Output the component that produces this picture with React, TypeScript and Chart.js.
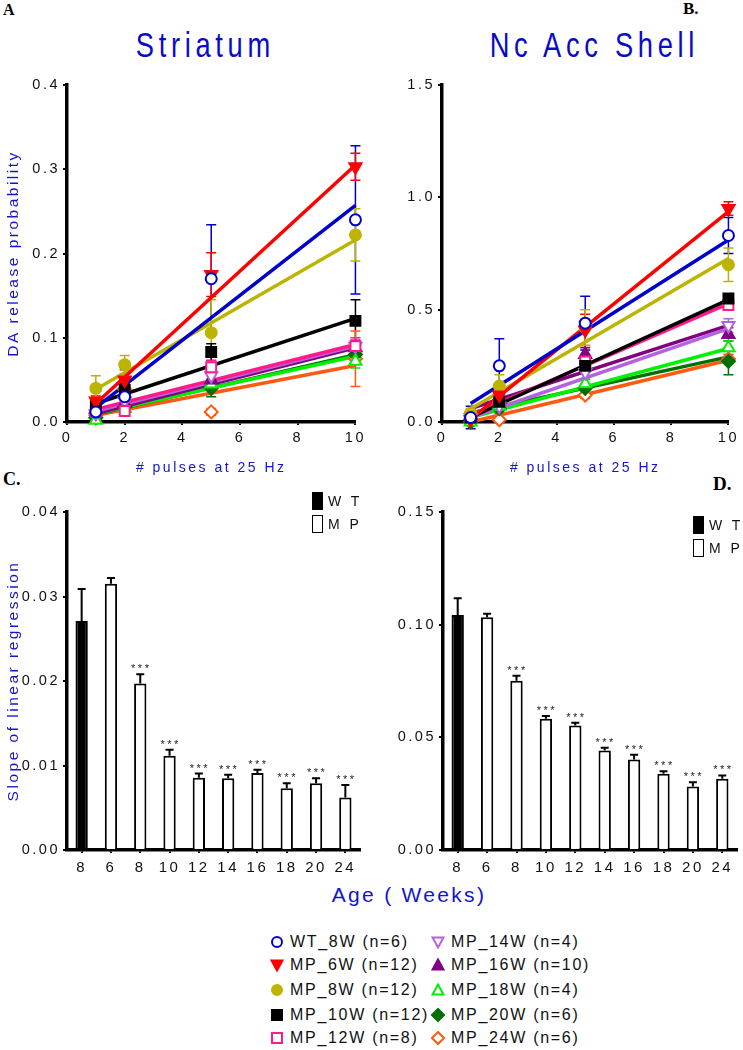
import React, { useEffect, useRef } from 'react';
import { Chart, registerables } from 'chart.js';

Chart.register(...registerables);

const FONT = "'Liberation Sans', Arial, sans-serif";
const SERIF = "'Liberation Serif', 'Times New Roman', serif";
const TEXT_BLUE = '#1414cc';

// ---------------- data ----------------
const pulses = [1, 2, 5, 10];
const fitRange = [1, 10];
const pulseTicks = [0, 2, 4, 6, 8, 10];
const striatumYTicks = [0, 0.1, 0.2, 0.3, 0.4];
const shellYTicks = [0, 0.5, 1.0, 1.5];
const slopeStriatumYTicks = [0, 0.01, 0.02, 0.03, 0.04];
const slopeShellYTicks = [0, 0.05, 0.1, 0.15];

const seriesLabels = [
  'WT_8W (n=6)', 'MP_6W (n=12)', 'MP_8W (n=12)', 'MP_10W (n=12)', 'MP_12W (n=8)',
  'MP_14W (n=4)', 'MP_16W (n=10)', 'MP_18W (n=4)', 'MP_20W (n=6)', 'MP_24W (n=6)',
];

const striatumMeans = [
  [0.012, 0.030, 0.170, 0.240],
  [0.025, 0.050, 0.175, 0.303],
  [0.040, 0.068, 0.106, 0.222],
  [0.020, 0.038, 0.083, 0.120],
  [0.012, 0.013, 0.065, 0.090],
  [0.010, 0.025, 0.055, 0.090],
  [0.015, 0.022, 0.050, 0.088],
  [0.002, 0.016, 0.045, 0.072],
  [0.005, 0.018, 0.040, 0.080],
  [0.008, 0.039, 0.012, 0.075],
];
const striatumErrors = [
  [0.004, 0.006, 0.064, 0.088],
  [0.006, 0.012, 0.026, 0.016],
  [0.015, 0.011, 0.039, 0.031],
  [0.005, 0.008, 0.010, 0.025],
  [0.005, 0.006, 0.008, 0.010],
  [0.004, 0.005, 0.008, 0.008],
  [0.004, 0.005, 0.008, 0.008],
  [0.002, 0.004, 0.006, 0.008],
  [0.003, 0.004, 0.010, 0.010],
  [0.003, 0.008, 0.004, 0.033],
];
const striatumFits = [
  [0.017, 0.257],
  [0.022, 0.305],
  [0.039, 0.216],
  [0.022, 0.123],
  [0.015, 0.092],
  [0.013, 0.090],
  [0.010, 0.088],
  [0.010, 0.078],
  [0.009, 0.080],
  [0.008, 0.067],
];

const shellMeans = [
  [0.02, 0.25, 0.44, 0.83],
  [0.01, 0.12, 0.41, 0.95],
  [0.04, 0.16, 0.42, 0.70],
  [0.02, 0.09, 0.25, 0.55],
  [0.02, 0.10, 0.27, 0.52],
  [0.02, 0.07, 0.22, 0.43],
  [0.03, 0.10, 0.30, 0.39],
  [0.00, 0.07, 0.17, 0.33],
  [0.00, 0.06, 0.15, 0.27],
  [0.00, 0.01, 0.12, 0.28],
];
const shellErrors = [
  [0.05, 0.12, 0.12, 0.08],
  [0.01, 0.03, 0.07, 0.03],
  [0.02, 0.05, 0.08, 0.075],
  [0.01, 0.02, 0.03, 0.02],
  [0.01, 0.02, 0.03, 0.02],
  [0.01, 0.02, 0.03, 0.03],
  [0.01, 0.02, 0.03, 0.03],
  [0.00, 0.02, 0.02, 0.03],
  [0.00, 0.02, 0.02, 0.06],
  [0.00, 0.01, 0.015, 0.02],
];
const shellFits = [
  [0.082, 0.81],
  [0.013, 0.936],
  [0.059, 0.728],
  [0.02, 0.545],
  [0.03, 0.527],
  [0.02, 0.416],
  [0.06, 0.43],
  [0.02, 0.327],
  [0.04, 0.29],
  [0.0, 0.275],
];

const ageLabels = ['8', '6', '8', '10', '12', '14', '16', '18', '20', '24'];
const ageGroups = ['WT', 'MP', 'MP', 'MP', 'MP', 'MP', 'MP', 'MP', 'MP', 'MP'];
const significance = ['', '', '***', '***', '***', '***', '***', '***', '***', '***'];
const striatumSlopes = [0.0271, 0.0315, 0.0197, 0.01115, 0.00855, 0.0085, 0.0091, 0.0073, 0.0079, 0.0062];
const striatumSlopeErrors = [0.0038, 0.0007, 0.0011, 0.0007, 0.0005, 0.0004, 0.0004, 0.0006, 0.0006, 0.0015];
const shellSlopes = [0.1043, 0.1033, 0.0751, 0.0583, 0.0553, 0.0442, 0.0402, 0.0338, 0.0282, 0.0316];
const shellSlopeErrors = [0.0074, 0.0015, 0.0022, 0.0012, 0.0012, 0.0012, 0.0021, 0.0012, 0.0019, 0.0015];

// ---------------- styles ----------------
const seriesColors = ['#0000cc', '#ff0000', '#bcb400', '#000000', '#ff1a8c', '#b463e0', '#800080', '#00f000', '#007000', '#ff5a10'];
const seriesShapes = ['circle', 'triangleDown', 'circle', 'square', 'square', 'triangleDown', 'triangle', 'triangle', 'diamond', 'diamond'];
const seriesFilled = [false, true, true, true, false, false, true, false, true, false];
const groupFill: Record<string, string> = { WT: '#000000', MP: '#ffffff' };

const shapeToChart: Record<string, { style: string; rotation: number; radius: number }> = {
  circle: { style: 'circle', rotation: 0, radius: 5.5 },
  triangleDown: { style: 'triangle', rotation: 180, radius: 7 },
  triangle: { style: 'triangle', rotation: 0, radius: 7 },
  square: { style: 'rect', rotation: 0, radius: 7 },
  diamond: { style: 'rectRot', rotation: 0, radius: 6.5 },
};

// ---------------- plugins ----------------
const setSpacing = (chart: any) => {
  (chart.ctx as any).letterSpacing = '2.5px';
};
const spacingPlugin = {
  id: 'letterSpacingPlugin',
  beforeUpdate: setSpacing,
  beforeLayout: setSpacing,
  beforeDraw: setSpacing,
};

function drawErrors(chart: any, after: boolean) {
  const ctx = chart.ctx;
  chart.data.datasets.forEach((ds: any, i: number) => {
    if (!ds.errorBars || !!ds.errorAfter !== after) return;
    const meta = chart.getDatasetMeta(i);
    const yScale = chart.scales[meta.yAxisID];
    ctx.save();
    ctx.strokeStyle = ds.errorColor;
    ctx.lineWidth = ds.errorWidth;
    meta.data.forEach((el: any, j: number) => {
      const raw = ds.data[j];
      const v = typeof raw === 'number' ? raw : raw.y;
      const e = ds.errorBars[j];
      if (!e) return;
      const x = el.x;
      const cap = ds.errorCap;
      const yHi = yScale.getPixelForValue(v + e);
      const yLo = ds.errorUpOnly ? yScale.getPixelForValue(v) : yScale.getPixelForValue(v - e);
      ctx.beginPath();
      ctx.moveTo(x, yLo);
      ctx.lineTo(x, yHi);
      ctx.moveTo(x - cap, yHi);
      ctx.lineTo(x + cap, yHi);
      if (!ds.errorUpOnly) {
        ctx.moveTo(x - cap, yLo);
        ctx.lineTo(x + cap, yLo);
      }
      ctx.stroke();
    });
    ctx.restore();
  });
}
const errorBarPlugin = {
  id: 'errorBarPlugin',
  beforeDatasetsDraw: (chart: any) => drawErrors(chart, false),
  afterDatasetsDraw: (chart: any) => drawErrors(chart, true),
};

const starsPlugin = {
  id: 'starsPlugin',
  afterDatasetsDraw(chart: any) {
    const ds: any = chart.data.datasets[0];
    const meta = chart.getDatasetMeta(0);
    const y = chart.scales.y;
    const ctx = chart.ctx;
    ctx.save();
    ctx.font = `11px ${FONT}`;
    ctx.fillStyle = '#222';
    ctx.textAlign = 'center';
    ctx.textBaseline = 'alphabetic';
    meta.data.forEach((el: any, j: number) => {
      if (!ds.stars[j]) return;
      const top = y.getPixelForValue(ds.data[j] + ds.errorBars[j]);
      ctx.fillText(ds.stars[j], el.x + 1, top - 2);
    });
    ctx.restore();
  },
};

// ---------------- helpers ----------------
function buildScatterDatasets(means: number[][], errors: number[][], fits: number[][]) {
  const ds: any[] = [];
  seriesLabels.forEach((label, i) => {
    const shape = shapeToChart[seriesShapes[i]];
    const color = seriesColors[i];
    ds.push({
      label,
      data: pulses.map((x, j) => ({ x, y: means[i][j] })),
      showLine: false,
      pointStyle: shape.style,
      rotation: shape.rotation,
      pointRadius: shape.radius,
      pointBorderWidth: 2,
      pointBorderColor: color,
      pointBackgroundColor: seriesFilled[i] ? color : '#ffffff',
      order: 0,
      clip: false,
      errorBars: errors[i],
      errorColor: color,
      errorWidth: 1.5,
      errorCap: 5,
    });
    ds.push({
      label: label + ' fit',
      data: fitRange.map((x, k) => ({ x, y: fits[i][k] })),
      showLine: true,
      borderColor: color,
      borderWidth: 3.5,
      pointRadius: 0,
      order: 1,
      clip: false,
    });
  });
  return ds;
}

const axisBorder = { display: true, color: '#000', width: 3.5 };
const tickGrid = { display: true, drawOnChartArea: false, drawTicks: true, tickLength: 4, color: '#000', lineWidth: 2 };

function yAxis(ticks: number[], decimals: number, width: number, title?: string) {
  return {
    type: 'linear',
    min: ticks[0],
    max: ticks[ticks.length - 1],
    afterBuildTicks: (s: any) => {
      s.ticks = ticks.map((v) => ({ value: v }));
    },
    afterFit: (s: any) => {
      s.width = width;
    },
    border: axisBorder,
    grid: tickGrid,
    ticks: {
      color: '#111',
      font: { family: FONT, size: 14.5 },
      padding: 3,
      callback: (v: any) => Number(v).toFixed(decimals),
    },
    title: {
      display: !!title,
      text: title || '',
      color: TEXT_BLUE,
      font: { family: FONT, size: 15.5 },
      padding: { top: 4, bottom: 0 },
    },
  };
}

type ScatterProps = {
  left: number; top: number; width: number; height: number;
  yWidth: number; xHeight: number; padTop: number; padRight: number;
  means: number[][]; errors: number[][]; fits: number[][];
  yTicks: number[]; yDecimals: number; yTitle?: string;
};

function ScatterPanel(p: ScatterProps) {
  const ref = useRef<HTMLCanvasElement>(null);
  useEffect(() => {
    const chart = new Chart(ref.current as HTMLCanvasElement, {
      type: 'scatter',
      data: { datasets: buildScatterDatasets(p.means, p.errors, p.fits) },
      options: {
        responsive: false,
        animation: false,
        devicePixelRatio: 1,
        layout: { padding: { left: 0, top: p.padTop, right: p.padRight, bottom: 0 } },
        plugins: { legend: { display: false }, tooltip: { enabled: false }, title: { display: false } },
        scales: {
          x: {
            type: 'linear',
            min: 0,
            max: 10,
            afterBuildTicks: (s: any) => {
              s.ticks = pulseTicks.map((v) => ({ value: v }));
            },
            afterFit: (s: any) => {
              s.height = p.xHeight;
            },
            border: axisBorder,
            grid: { ...tickGrid, tickLength: 3 },
            ticks: { color: '#111', font: { family: FONT, size: 14.5 }, padding: 4, maxRotation: 0 },
            title: {
              display: true,
              text: '# pulses at 25 Hz',
              color: TEXT_BLUE,
              font: { family: FONT, size: 14 },
              padding: { top: 0, bottom: 3 },
            },
          },
          y: yAxis(p.yTicks, p.yDecimals, p.yWidth, p.yTitle),
        },
      } as any,
      plugins: [spacingPlugin, errorBarPlugin],
    });
    return () => chart.destroy();
  }, []);
  return (
    <canvas
      ref={ref}
      width={p.width}
      height={p.height}
      style={{ position: 'absolute', left: p.left, top: p.top, width: p.width, height: p.height }}
    />
  );
}

type BarProps = {
  left: number; top: number; width: number; height: number;
  yWidth: number; xHeight: number; padTop: number; padRight: number;
  means: number[]; errors: number[]; yTicks: number[]; yTitle?: string;
};

function BarPanel(p: BarProps) {
  const ref = useRef<HTMLCanvasElement>(null);
  useEffect(() => {
    const chart = new Chart(ref.current as HTMLCanvasElement, {
      type: 'bar',
      data: {
        labels: ageLabels,
        datasets: [
          {
            label: 'slope',
            data: p.means,
            backgroundColor: ageGroups.map((g) => groupFill[g]),
            borderColor: '#000',
            borderWidth: 2,
            borderSkipped: 'start',
            barPercentage: 0.42,
            categoryPercentage: 1,
            errorBars: p.errors,
            errorUpOnly: true,
            errorAfter: true,
            errorColor: '#000',
            errorWidth: 2,
            errorCap: 4,
            stars: significance,
          } as any,
        ],
      },
      options: {
        responsive: false,
        animation: false,
        devicePixelRatio: 1,
        layout: { padding: { left: 0, top: p.padTop, right: p.padRight, bottom: 0 } },
        plugins: { legend: { display: false }, tooltip: { enabled: false } },
        scales: {
          x: {
            type: 'category',
            afterFit: (s: any) => {
              s.height = p.xHeight;
            },
            border: axisBorder,
            grid: { ...tickGrid, offset: false, tickLength: 3 },
            ticks: { color: '#111', font: { family: FONT, size: 15 }, padding: 6, maxRotation: 0, autoSkip: false },
          },
          y: yAxis(p.yTicks, 2, p.yWidth, p.yTitle),
        },
      } as any,
      plugins: [spacingPlugin, errorBarPlugin, starsPlugin],
    });
    return () => chart.destroy();
  }, []);
  return (
    <canvas
      ref={ref}
      width={p.width}
      height={p.height}
      style={{ position: 'absolute', left: p.left, top: p.top, width: p.width, height: p.height }}
    />
  );
}

function Marker({ shape, color, filled }: { shape: string; color: string; filled: boolean }) {
  const fill = filled ? color : '#ffffff';
  let el: any = null;
  if (shape === 'circle') el = <circle cx={7} cy={7} r={5} fill={fill} stroke={color} strokeWidth={2} />;
  else if (shape === 'square') el = <rect x={2} y={2} width={10} height={10} fill={fill} stroke={color} strokeWidth={2} />;
  else if (shape === 'triangleDown') el = <polygon points="1.5,2.5 12.5,2.5 7,12.5" fill={fill} stroke={color} strokeWidth={2} />;
  else if (shape === 'triangle') el = <polygon points="7,1.5 12.5,11.5 1.5,11.5" fill={fill} stroke={color} strokeWidth={2} />;
  else if (shape === 'diamond') el = <polygon points="7,1 13,7 7,13 1,7" fill={fill} stroke={color} strokeWidth={2} />;
  return (
    <svg width={14} height={14} style={{ display: 'block', flex: 'none' }}>
      {el}
    </svg>
  );
}

const legendRows = [942, 965, 990, 1015, 1038];

function BottomLegend() {
  return (
    <>
      {seriesLabels.map((label, i) => {
        const col = i < 5 ? 0 : 1;
        const row = i % 5;
        const mx = col === 0 ? 277 : 438;
        return (
          <div
            key={label}
            style={{
              position: 'absolute',
              left: mx - 7,
              top: legendRows[row] - 10,
              height: 20,
              display: 'flex',
              alignItems: 'center',
              whiteSpace: 'nowrap',
            }}
          >
            <Marker shape={seriesShapes[i]} color={seriesColors[i]} filled={seriesFilled[i]} />
            <span
              style={{
                marginLeft: 6,
                fontFamily: FONT,
                fontSize: 16,
                letterSpacing: '1.7px',
                color: '#111',
                lineHeight: '20px',
              }}
            >
              {label}
            </span>
          </div>
        );
      })}
    </>
  );
}

function GroupLegend({ left, top }: { left: number; top: number }) {
  const items = ['WT', 'MP'];
  return (
    <>
      {items.map((g, i) => (
        <div
          key={g}
          style={{
            position: 'absolute',
            left,
            top: top + i * 23,
            height: 18,
            display: 'flex',
            alignItems: 'center',
            whiteSpace: 'nowrap',
          }}
        >
          <div
            style={{
              width: 9,
              height: 16,
              flex: 'none',
              background: groupFill[g],
              border: '1.5px solid #000',
            }}
          />
          <span style={{ marginLeft: 5, fontFamily: FONT, fontSize: 14, letterSpacing: '3px', color: '#111' }}>
            {g === 'WT' ? 'W T' : 'M P'}
          </span>
        </div>
      ))}
    </>
  );
}

function PanelTitle({ text, center }: { text: string; center: number }) {
  return (
    <div
      style={{
        position: 'absolute',
        left: center - 160,
        top: 27,
        width: 320,
        textAlign: 'center',
        fontFamily: FONT,
        fontSize: 35,
        lineHeight: 1,
        letterSpacing: '6px',
        paddingLeft: 6,
        color: '#0a0ac8',
        transform: 'scaleX(0.78)',
        whiteSpace: 'nowrap',
      }}
    >
      {text}
    </div>
  );
}

function PanelLetter({ text, left, top, size }: { text: string; left: number; top: number; size: number }) {
  return (
    <div
      style={{
        position: 'absolute',
        left,
        top,
        fontFamily: SERIF,
        fontWeight: 'bold',
        fontSize: size,
        lineHeight: 1,
        color: '#000',
      }}
    >
      {text}
    </div>
  );
}

export default function App() {
  return (
    <div
      style={{
        position: 'absolute',
        left: 0,
        top: 0,
        width: 743,
        height: 1050,
        background: '#ffffff',
        overflow: 'hidden',
      }}
    >
      <PanelLetter text="A" left={3} top={2} size={16} />
      <PanelLetter text="B." left={683} top={0} size={17} />
      <PanelLetter text="C." left={3} top={470} size={18} />
      <PanelLetter text="D." left={713} top={474} size={19} />
      <PanelTitle text="Striatum" center={200} />
      <PanelTitle text="Nc Acc Shell" center={589} />

      <ScatterPanel
        left={0} top={60} width={370} height={420}
        yWidth={67} xHeight={58} padTop={25} padRight={12}
        means={striatumMeans} errors={striatumErrors} fits={striatumFits}
        yTicks={striatumYTicks} yDecimals={1} yTitle="DA release probability"
      />
      <ScatterPanel
        left={370} top={60} width={373} height={420}
        yWidth={72} xHeight={58} padTop={25} padRight={10}
        means={shellMeans} errors={shellErrors} fits={shellFits}
        yTicks={shellYTicks} yDecimals={1}
      />
      <BarPanel
        left={0} top={480} width={370} height={400}
        yWidth={67} xHeight={30} padTop={32} padRight={10}
        means={striatumSlopes} errors={striatumSlopeErrors}
        yTicks={slopeStriatumYTicks} yTitle="Slope of linear regression"
      />
      <BarPanel
        left={370} top={480} width={373} height={400}
        yWidth={73} xHeight={30} padTop={32} padRight={6}
        means={shellSlopes} errors={shellSlopeErrors}
        yTicks={slopeShellYTicks}
      />
      <GroupLegend left={312} top={492} />
      <GroupLegend left={693} top={516} />

      <div
        style={{
          position: 'absolute',
          left: 259,
          top: 884,
          width: 300,
          textAlign: 'center',
          fontFamily: FONT,
          fontSize: 21,
          lineHeight: 1,
          letterSpacing: '2.3px',
          color: TEXT_BLUE,
          whiteSpace: 'nowrap',
        }}
      >
        Age ( Weeks)
      </div>
      <BottomLegend />
    </div>
  );
}
